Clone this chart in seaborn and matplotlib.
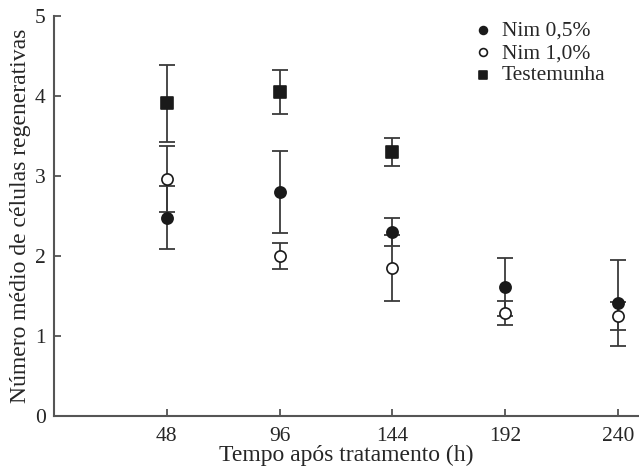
import numpy as np
import pandas as pd
import seaborn as sns
import matplotlib.pyplot as plt

# tempo (h) e médias com erro
hours = [48, 96, 144, 192, 240]
nim05_mean = [2.48, 2.80, 2.30, 1.61, 1.41]
nim05_err = [0.39, 0.51, 0.18, 0.36, 0.54]
nim10_mean = [2.96, 2.00, 1.85, 1.29, 1.25]
nim10_err = [0.41, 0.16, 0.41, 0.15, 0.17]
test_hours = [48, 96, 144]
test_mean = [3.91, 4.05, 3.30]
test_err = [0.48, 0.28, 0.17]

series = [
    ("Nim 0,5%", hours, nim05_mean, nim05_err, "o", "#1a1a1a"),
    ("Nim 1,0%", hours, nim10_mean, nim10_err, "o", "white"),
    ("Testemunha", test_hours, test_mean, test_err, "s", "#1a1a1a"),
]

sns.set_style("ticks")
plt.rcParams["font.family"] = ["Liberation Serif", "DejaVu Serif"]

fig = plt.figure(figsize=(6.39, 4.71), dpi=100)
ax = fig.add_axes([54 / 639, 1 - 416 / 471, 1 - 54 / 639, 400 / 471])

# barras de erro primeiro
for name, x, m, e, mk, fc in series:
    ax.errorbar(x, m, yerr=e, fmt="none", ecolor="#3a3a3a", elinewidth=1.3,
                capsize=5.5, capthick=1.3, zorder=2)

for name, x, m, e, mk, fc in series:
    df = pd.DataFrame({"h": x, "m": m})
    sns.scatterplot(data=df, x="h", y="m", marker=mk, s=75 if mk == "s" else 65,
                    color=fc, edgecolor="#1a1a1a", linewidth=1.2,
                    label=name, ax=ax, zorder=3)

ax.set_xlim(0, 249)
ax.set_ylim(0, 5)
ax.set_xticks(hours)
ax.set_yticks(range(6))
ax.tick_params(direction="in", length=5, width=1.2, color="#444444",
               labelsize=15.5, pad=6)
ax.tick_params(axis="x", pad=8)
for s in ["top", "right"]:
    ax.spines[s].set_visible(False)
for s in ["left", "bottom"]:
    ax.spines[s].set_color("#555555")
    ax.spines[s].set_linewidth(1.5)

ax.set_xlabel("Tempo após tratamento (h)", fontsize=17, labelpad=-1)
ax.set_ylabel("Número médio de células regenerativas", fontsize=17, labelpad=3)

ax.legend(frameon=False, loc="upper left", bbox_to_anchor=(461 / 639, 1 - 10 / 471),
          bbox_transform=fig.transFigure, fontsize=15.5, markerscale=0.7,
          handlelength=1.0, handletextpad=0.4, labelspacing=0.1, borderpad=0)

fig.savefig("out.png", dpi=100)
